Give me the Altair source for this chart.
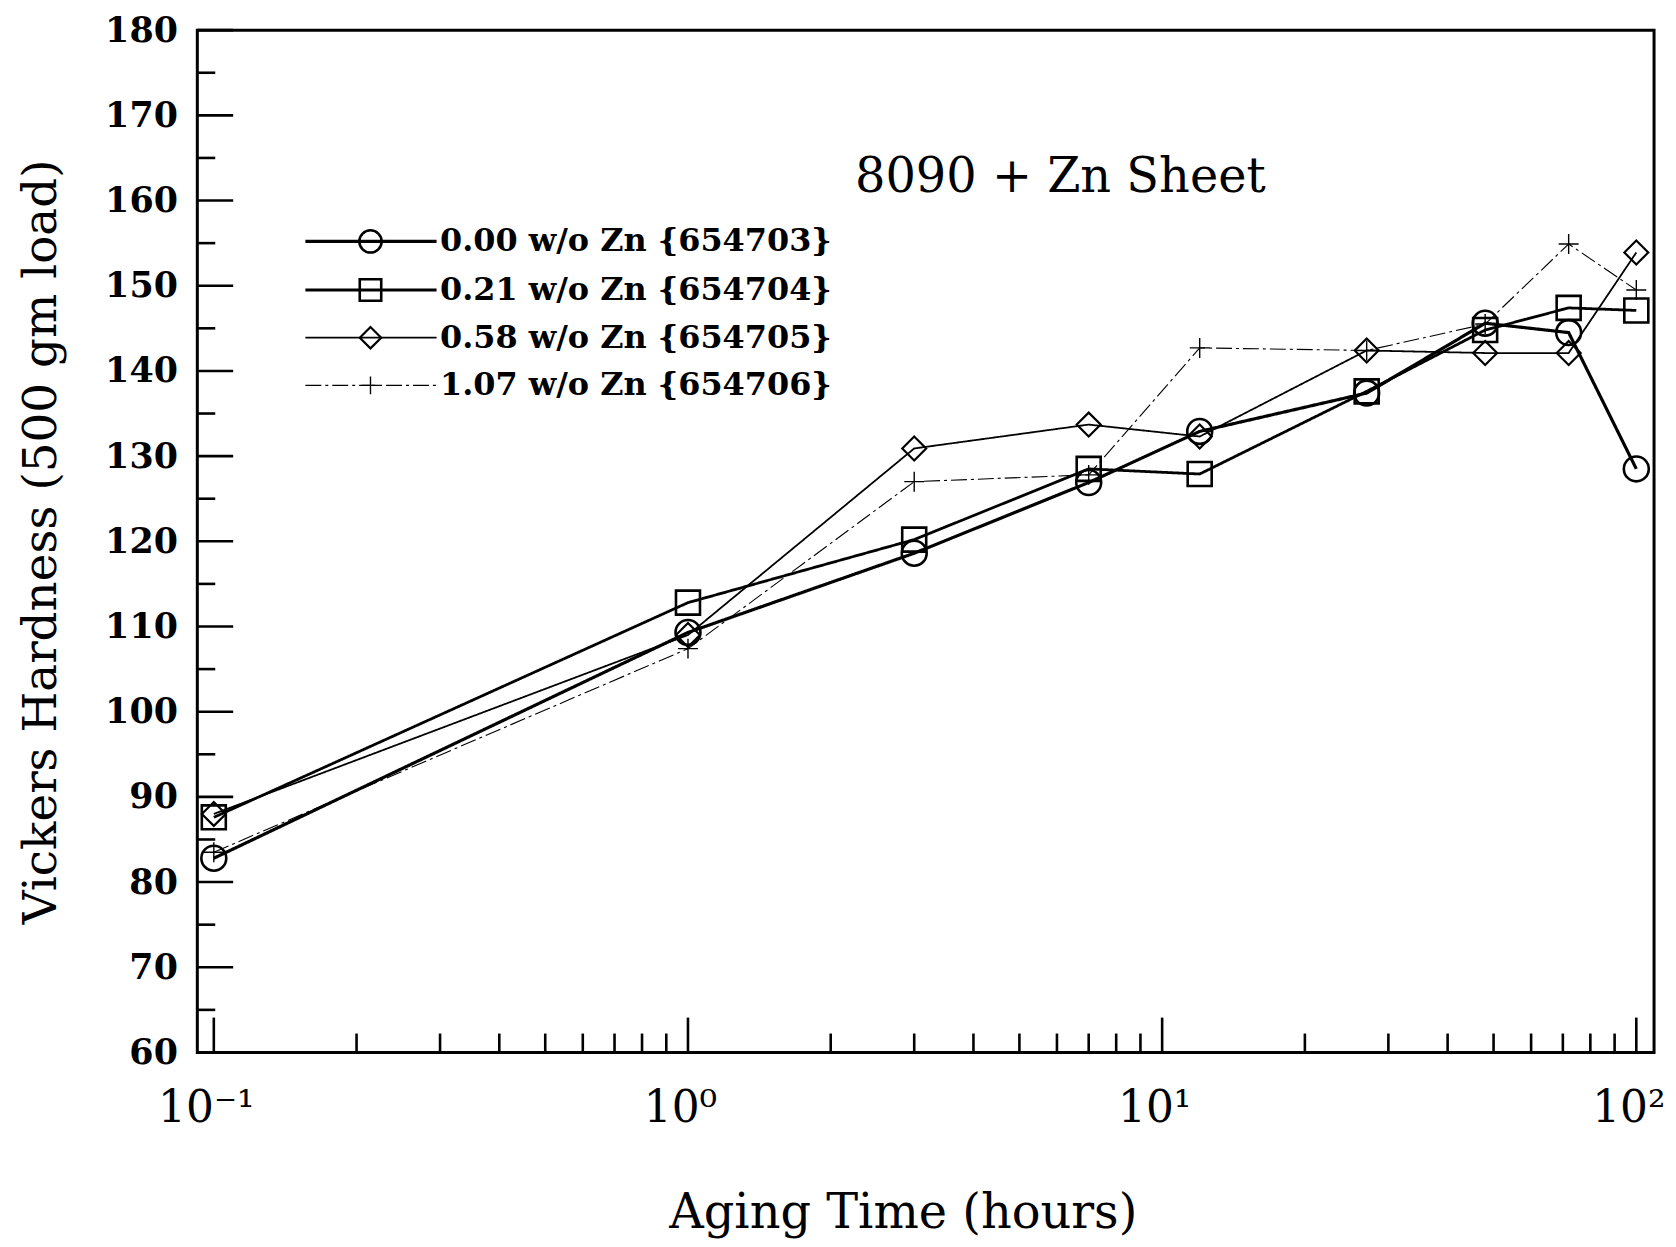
import altair as alt
import pandas as pd

# ---------------- data ----------------
hours = [0.1, 1.0, 3.0, 7.0, 12.0, 27.0, 48.0, 72.0, 100.0]
zn_000 = [82.8, 109.3, 118.6, 126.9, 132.9, 137.4, 145.6, 144.5, 128.5]
zn_021 = [87.6, 112.8, 120.2, 128.5, 127.9, 137.6, 144.8, 147.4, 147.1]
zn_058 = [88.0, 109.0, 130.9, 133.7, 132.3, 142.4, 142.1, 142.1, 153.9]
zn_107 = [83.5, 107.4, 127.0, 127.8, 142.7, 142.4, 145.5, 154.9, 149.5]

series_labels = [
    "0.00 w/o Zn {654703}",
    "0.21 w/o Zn {654704}",
    "0.58 w/o Zn {654705}",
    "1.07 w/o Zn {654706}",
]
series_values = [zn_000, zn_021, zn_058, zn_107]

y_major = list(range(60, 181, 10))
y_minor = list(range(65, 180, 10))
x_major = [0.1, 1.0, 10.0, 100.0]
x_minor = [m * 10.0 ** e for e in (-1, 0, 1) for m in range(2, 10)]

title_text = "8090 + Zn Sheet"
x_title = "Aging Time (hours)"
y_title = "Vickers Hardness (500 gm load)"

# ---------------- layout / style ----------------
W, H = 1462, 1026
XDOM = [0.0923, 109.0]
YDOM = [60, 180]
FONT = "DejaVu Serif"

xs = alt.Scale(type="log", domain=XDOM, nice=False)
ys = alt.Scale(domain=YDOM, nice=False, zero=False)

xaxis = alt.Axis(
    values=x_major,
    labelExpr="datum.value < 0.5 ? '10\u207b\u00b9' : datum.value < 5 ? '10\u2070' : datum.value < 50 ? '10\u00b9' : '10\u00b2'",
    ticks=False, domain=False, grid=False,
    labelFont=FONT, labelFontSize=44, labelColor="black", labelPadding=34,
    labelOffset=-8, labelFlush=False, labelOverlap=False,
    title=x_title, titleFont=FONT, titleFontSize=48, titleFontWeight="normal",
    titleColor="black", titleX=708, titleY=162, titleBaseline="middle",
    titleAlign="center",
)
yaxis = alt.Axis(
    values=y_major,
    ticks=False, domain=False, grid=False,
    labelFont=FONT, labelFontSize=35, labelFontWeight="bold", labelColor="black",
    labelPadding=20, labelFlush=False, labelOverlap=False,
    title=y_title, titleFont=FONT, titleFontSize=47, titleFontWeight="normal",
    titleColor="black", titleX=-156, titleY=H / 2, titleAngle=-90,
    titleBaseline="middle", titleAlign="center",
)

X = alt.X("hours:Q", scale=xs, axis=xaxis)
Y = alt.Y("hardness:Q", scale=ys, axis=yaxis)

styles = [
    dict(shape="circle", size=625, lw=3.2, mw=2.6, dash=[1, 0]),
    dict(shape="square", size=580, lw=2.8, mw=2.6, dash=[1, 0]),
    dict(shape="diamond", size=576, lw=1.8, mw=2.2, dash=[1, 0]),
    dict(shape="M-1,0L1,0M0,-1L0,1", size=400, lw=1.1, mw=1.4, dash=[16, 4, 3, 4]),
]

legend_y = [155.2, 149.5, 143.9, 138.3]
legend_x0, legend_x1, legend_xm, legend_xt = 0.156, 0.295, 0.214, 0.300

layers = []

# inward tick marks
ymaj = pd.DataFrame({"hardness": y_major})
ymin = pd.DataFrame({"hardness": y_minor})
xmaj = pd.DataFrame({"hours": x_major})
xmin = pd.DataFrame({"hours": x_minor})
layers.append(alt.Chart(ymaj).mark_rule(color="black", strokeWidth=2.6).encode(
    y=Y, x=alt.value(0), x2=alt.value(36)))
layers.append(alt.Chart(ymin).mark_rule(color="black", strokeWidth=2.6).encode(
    y=Y, x=alt.value(0), x2=alt.value(18)))
layers.append(alt.Chart(xmaj).mark_rule(color="black", strokeWidth=2.6).encode(
    x=X, y=alt.value(H), y2=alt.value(H - 35)))
layers.append(alt.Chart(xmin).mark_rule(color="black", strokeWidth=2.6).encode(
    x=X, y=alt.value(H), y2=alt.value(H - 19)))

# series lines and markers (draw thinnest first)
for i in [3, 2, 1, 0]:
    st = styles[i]
    df = pd.DataFrame({"hours": hours, "hardness": series_values[i]})
    layers.append(alt.Chart(df).mark_line(
        color="black", strokeWidth=st["lw"], strokeDash=st["dash"]).encode(x=X, y=Y))
    layers.append(alt.Chart(df).mark_point(
        shape=st["shape"], size=st["size"], filled=False, color="black",
        strokeWidth=st["mw"], opacity=1).encode(x=X, y=Y))

# legend drawn inside the plot
for i in range(4):
    st = styles[i]
    ly = legend_y[i]
    ldf = pd.DataFrame({"hours": [legend_x0, legend_x1], "hardness": [ly, ly]})
    mdf = pd.DataFrame({"hours": [legend_xm], "hardness": [ly]})
    tdf = pd.DataFrame({"hours": [legend_xt], "hardness": [ly], "label": [series_labels[i]]})
    layers.append(alt.Chart(ldf).mark_line(
        color="black", strokeWidth=max(st["lw"], 1.4), strokeDash=st["dash"]).encode(x=X, y=Y))
    layers.append(alt.Chart(mdf).mark_point(
        shape=st["shape"], size=st["size"] * 0.8, filled=False, color="black",
        strokeWidth=st["mw"], opacity=1).encode(x=X, y=Y))
    layers.append(alt.Chart(tdf).mark_text(
        align="left", baseline="middle", font=FONT, fontSize=32, fontWeight="bold",
        color="black").encode(x=X, y=Y, text="label:N"))

# title inside the plot
ttl = pd.DataFrame({"hours": [6.1], "hardness": [162.6], "label": [title_text]})
layers.append(alt.Chart(ttl).mark_text(
    align="center", baseline="middle", font=FONT, fontSize=48, color="black").encode(
    x=X, y=Y, text="label:N"))

chart = alt.layer(*layers).properties(
    width=W, height=H,
    autosize=alt.AutoSizeParams(type="none"),
    padding={"left": 190, "top": 20, "right": 14, "bottom": 190},
    background="white",
).configure_view(stroke="black", strokeWidth=3)

chart.save("out.html", embed_options={"renderer": "svg", "actions": False})
